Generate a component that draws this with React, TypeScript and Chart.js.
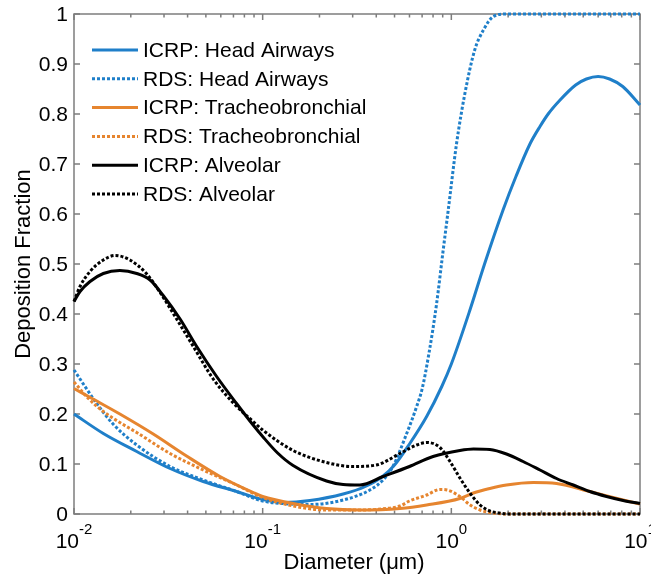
import React, { useEffect, useRef } from 'react';
import { Chart, registerables } from 'chart.js';

Chart.register(...registerables);

// ---------- data ----------
const icrpHeadD = [0.01, 0.0143, 0.0215, 0.0323, 0.0484, 0.0727, 0.1, 0.13, 0.178, 0.267, 0.35, 0.435, 0.5, 0.6, 0.74, 0.89, 1.0, 1.26, 1.5, 1.88, 2.2, 2.61, 2.95, 3.26, 3.77, 4.56, 5.2, 6.0, 6.9, 8.1, 10];
const icrpHeadDF = [0.2, 0.161, 0.125, 0.091, 0.065, 0.045, 0.029, 0.023, 0.027, 0.04, 0.055, 0.076, 0.098, 0.14, 0.195, 0.255, 0.3, 0.41, 0.5, 0.608, 0.675, 0.74, 0.775, 0.8, 0.828, 0.858, 0.87, 0.875, 0.87, 0.855, 0.818];

const rdsHeadD = [0.01, 0.0132, 0.0161, 0.0215, 0.0323, 0.0484, 0.0727, 0.1, 0.14, 0.178, 0.267, 0.37, 0.44, 0.49, 0.58, 0.655, 0.7, 0.76, 0.835, 0.9, 0.963, 1.066, 1.18, 1.33, 1.48, 1.67, 1.96, 3, 5, 10];
const rdsHeadDF = [0.288, 0.221, 0.18, 0.138, 0.095, 0.068, 0.045, 0.026, 0.02, 0.019, 0.028, 0.048, 0.07, 0.095, 0.161, 0.215, 0.25, 0.32, 0.42, 0.52, 0.608, 0.741, 0.841, 0.928, 0.968, 0.995, 1.0, 1.0, 1.0, 1.0];

const icrpTbD = [0.01, 0.0129, 0.0175, 0.0263, 0.0395, 0.0594, 0.089, 0.1, 0.145, 0.218, 0.328, 0.534, 0.74, 1.11, 1.31, 1.6, 1.96, 2.72, 3.61, 5.42, 8.14, 10];
const icrpTbDF = [0.251, 0.228, 0.2, 0.16, 0.116, 0.075, 0.043, 0.035, 0.021, 0.011, 0.008, 0.011, 0.018, 0.031, 0.042, 0.051, 0.058, 0.063, 0.061, 0.045, 0.028, 0.02];

const rdsTbD = [0.01, 0.012, 0.0143, 0.0175, 0.0215, 0.0323, 0.0484, 0.0727, 0.1, 0.145, 0.218, 0.328, 0.45, 0.534, 0.6, 0.74, 0.87, 0.95, 1.11, 1.26, 1.42, 1.6, 2.0, 3, 5, 10];
const rdsTbDF = [0.264, 0.23, 0.205, 0.183, 0.163, 0.121, 0.088, 0.058, 0.033, 0.016, 0.008, 0.008, 0.011, 0.016, 0.026, 0.038, 0.049, 0.048, 0.035, 0.018, 0.008, 0.003, 0, 0, 0, 0];

const icrpAlvD = [0.01, 0.01076, 0.01216, 0.0143, 0.0175, 0.0215, 0.0253, 0.0297, 0.0365, 0.0447, 0.057, 0.0727, 0.089, 0.1, 0.12, 0.145, 0.218, 0.267, 0.328, 0.435, 0.6, 0.8, 1.11, 1.31, 1.6, 1.96, 2.4, 2.95, 3.61, 4.43, 5.42, 6.65, 8.14, 10];
const icrpAlvDF = [0.425, 0.445, 0.465, 0.481, 0.487, 0.481, 0.468, 0.437, 0.39, 0.335, 0.275, 0.221, 0.178, 0.155, 0.122, 0.097, 0.066, 0.059, 0.058, 0.075, 0.095, 0.115, 0.127, 0.13, 0.129, 0.12, 0.105, 0.088, 0.071, 0.058, 0.045, 0.035, 0.027, 0.021];

const rdsAlvD = [0.01, 0.01076, 0.01216, 0.0143, 0.0165, 0.0198, 0.0243, 0.0286, 0.035, 0.0429, 0.0547, 0.0699, 0.089, 0.1, 0.145, 0.218, 0.3, 0.4, 0.534, 0.655, 0.74, 0.87, 0.984, 1.11, 1.26, 1.42, 1.6, 1.8, 2.0, 3, 5, 10];
const rdsAlvDF = [0.425, 0.455, 0.485, 0.508, 0.517, 0.508, 0.48, 0.443, 0.39, 0.335, 0.27, 0.222, 0.185, 0.168, 0.127, 0.103, 0.095, 0.098, 0.121, 0.138, 0.143, 0.133, 0.105, 0.072, 0.041, 0.018, 0.006, 0.002, 0, 0, 0, 0];

const seriesLabels = [
  'ICRP: Head Airways',
  'RDS: Head Airways',
  'ICRP: Tracheobronchial',
  'RDS: Tracheobronchial',
  'ICRP: Alveolar',
  'RDS: Alveolar',
];

const xRange = [0.01, 10];
const yRange = [0, 1];
const yTickValues = [0, 0.1, 0.2, 0.3, 0.4, 0.5, 0.6, 0.7, 0.8, 0.9, 1];
const yTickLabels = ['0', '0.1', '0.2', '0.3', '0.4', '0.5', '0.6', '0.7', '0.8', '0.9', '1'];
const xTickValues = [0.01, 0.1, 1, 10];
const xTickBase = '10';
const xTickExponents = ['-2', '-1', '0', '1'];
const xTitle = 'Diameter (\u03bcm)';
const yTitle = 'Deposition Fraction';

// ---------- styles ----------
const BLUE = '#1f7fc9';
const ORANGE = '#e6852f';
const BLACK = '#000000';
const AXIS = '#7d7d7d';
const FONT = '"Liberation Sans", Arial, Helvetica, sans-serif';
const DOT = [3, 2];

function pts(xs: number[], ys: number[]) {
  return xs.map((x, i) => ({ x, y: ys[i] }));
}

const decorPlugin = {
  id: 'decor',
  beforeDatasetsDraw(chart: any) {
    const { ctx, chartArea: a, scales } = chart;
    const x = scales.x;
    const y = scales.y;
    ctx.save();
    ctx.strokeStyle = AXIS;
    ctx.lineWidth = 1.5;
    ctx.strokeRect(a.left, a.top, a.right - a.left, a.bottom - a.top);
    ctx.beginPath();
    yTickValues.forEach((v) => {
      const py = y.getPixelForValue(v);
      ctx.moveTo(a.left, py);
      ctx.lineTo(a.left + 6, py);
      ctx.moveTo(a.right, py);
      ctx.lineTo(a.right - 6, py);
    });
    xTickValues.forEach((v) => {
      const px = x.getPixelForValue(v);
      ctx.moveTo(px, a.bottom);
      ctx.lineTo(px, a.bottom - 6);
      ctx.moveTo(px, a.top);
      ctx.lineTo(px, a.top + 6);
    });
    for (let e = -2; e < 1; e++) {
      for (let k = 2; k <= 9; k++) {
        const px = x.getPixelForValue(k * Math.pow(10, e));
        ctx.moveTo(px, a.bottom);
        ctx.lineTo(px, a.bottom - 3.5);
        ctx.moveTo(px, a.top);
        ctx.lineTo(px, a.top + 3.5);
      }
    }
    ctx.stroke();
    ctx.restore();
  },
  afterDraw(chart: any) {
    const { ctx, chartArea: a, scales } = chart;
    const x = scales.x;
    const y = scales.y;
    ctx.save();
    ctx.fillStyle = '#000';
    // y tick labels
    ctx.font = `21px ${FONT}`;
    ctx.textAlign = 'right';
    ctx.textBaseline = 'middle';
    yTickValues.forEach((v, i) => {
      ctx.fillText(yTickLabels[i], a.left - 6, y.getPixelForValue(v) + 1);
    });
    // x tick labels: 10 with superscript exponent
    ctx.textAlign = 'left';
    ctx.textBaseline = 'alphabetic';
    xTickValues.forEach((v, i) => {
      const px = x.getPixelForValue(v);
      ctx.font = `21px ${FONT}`;
      const w1 = ctx.measureText(xTickBase).width;
      ctx.font = `15px ${FONT}`;
      const w2 = ctx.measureText(xTickExponents[i]).width;
      const start = px - (w1 + w2) / 2;
      ctx.font = `21px ${FONT}`;
      ctx.fillText(xTickBase, start, a.bottom + 34);
      ctx.font = `15px ${FONT}`;
      ctx.fillText(xTickExponents[i], start + w1, a.bottom + 20);
    });
    // axis titles
    ctx.font = `22px ${FONT}`;
    ctx.textAlign = 'center';
    ctx.textBaseline = 'alphabetic';
    ctx.fillText(xTitle, (a.left + a.right) / 2 - 3, a.bottom + 55);
    ctx.save();
    ctx.translate(30, (a.top + a.bottom) / 2);
    ctx.rotate(-Math.PI / 2);
    ctx.fillText(yTitle, 0, 0);
    ctx.restore();
    // legend
    const ds = chart.data.datasets;
    ctx.font = `21px ${FONT}`;
    ctx.textAlign = 'left';
    ctx.textBaseline = 'middle';
    ds.forEach((d: any, i: number) => {
      const ry = 50 + i * 28.8;
      ctx.save();
      ctx.strokeStyle = d.borderColor;
      ctx.lineWidth = d.borderWidth;
      ctx.setLineDash(d.borderDash || []);
      ctx.beginPath();
      ctx.moveTo(92, ry);
      ctx.lineTo(138, ry);
      ctx.stroke();
      ctx.restore();
      ctx.fillText(d.label, 143, ry + 1);
    });
    ctx.restore();
  },
};

export default function App() {
  const ref = useRef<HTMLCanvasElement | null>(null);
  useEffect(() => {
    if (!ref.current) return;
    const mk = (i: number, xs: number[], ys: number[], color: string, dashed: boolean) => ({
      label: seriesLabels[i],
      data: pts(xs, ys),
      borderColor: color,
      backgroundColor: color,
      borderWidth: 3,
      borderDash: dashed ? DOT : [],
      pointRadius: 0,
      fill: false,
      cubicInterpolationMode: 'monotone' as const,
      clip: 3,
      order: 6 - i,
    });
    const chart = new Chart(ref.current, {
      type: 'line',
      data: {
        datasets: [
          mk(0, icrpHeadD, icrpHeadDF, BLUE, false),
          mk(1, rdsHeadD, rdsHeadDF, BLUE, true),
          mk(2, icrpTbD, icrpTbDF, ORANGE, false),
          mk(3, rdsTbD, rdsTbDF, ORANGE, true),
          mk(4, icrpAlvD, icrpAlvDF, BLACK, false),
          mk(5, rdsAlvD, rdsAlvDF, BLACK, true),
        ],
      },
      options: {
        responsive: false,
        animation: false,
        layout: { padding: { left: 74, right: 11, top: 14, bottom: 60 } },
        scales: {
          x: { type: 'logarithmic', min: xRange[0], max: xRange[1], display: false },
          y: { type: 'linear', min: yRange[0], max: yRange[1], display: false },
        },
        plugins: {
          legend: { display: false },
          tooltip: { enabled: false },
        },
      },
      plugins: [decorPlugin],
    });
    return () => chart.destroy();
  }, []);
  return (
    <div style={{ position: 'absolute', left: 0, top: 0, width: 651, height: 574, background: '#fff' }}>
      <canvas ref={ref} width={651} height={574} style={{ display: 'block', width: 651, height: 574 }} />
    </div>
  );
}
